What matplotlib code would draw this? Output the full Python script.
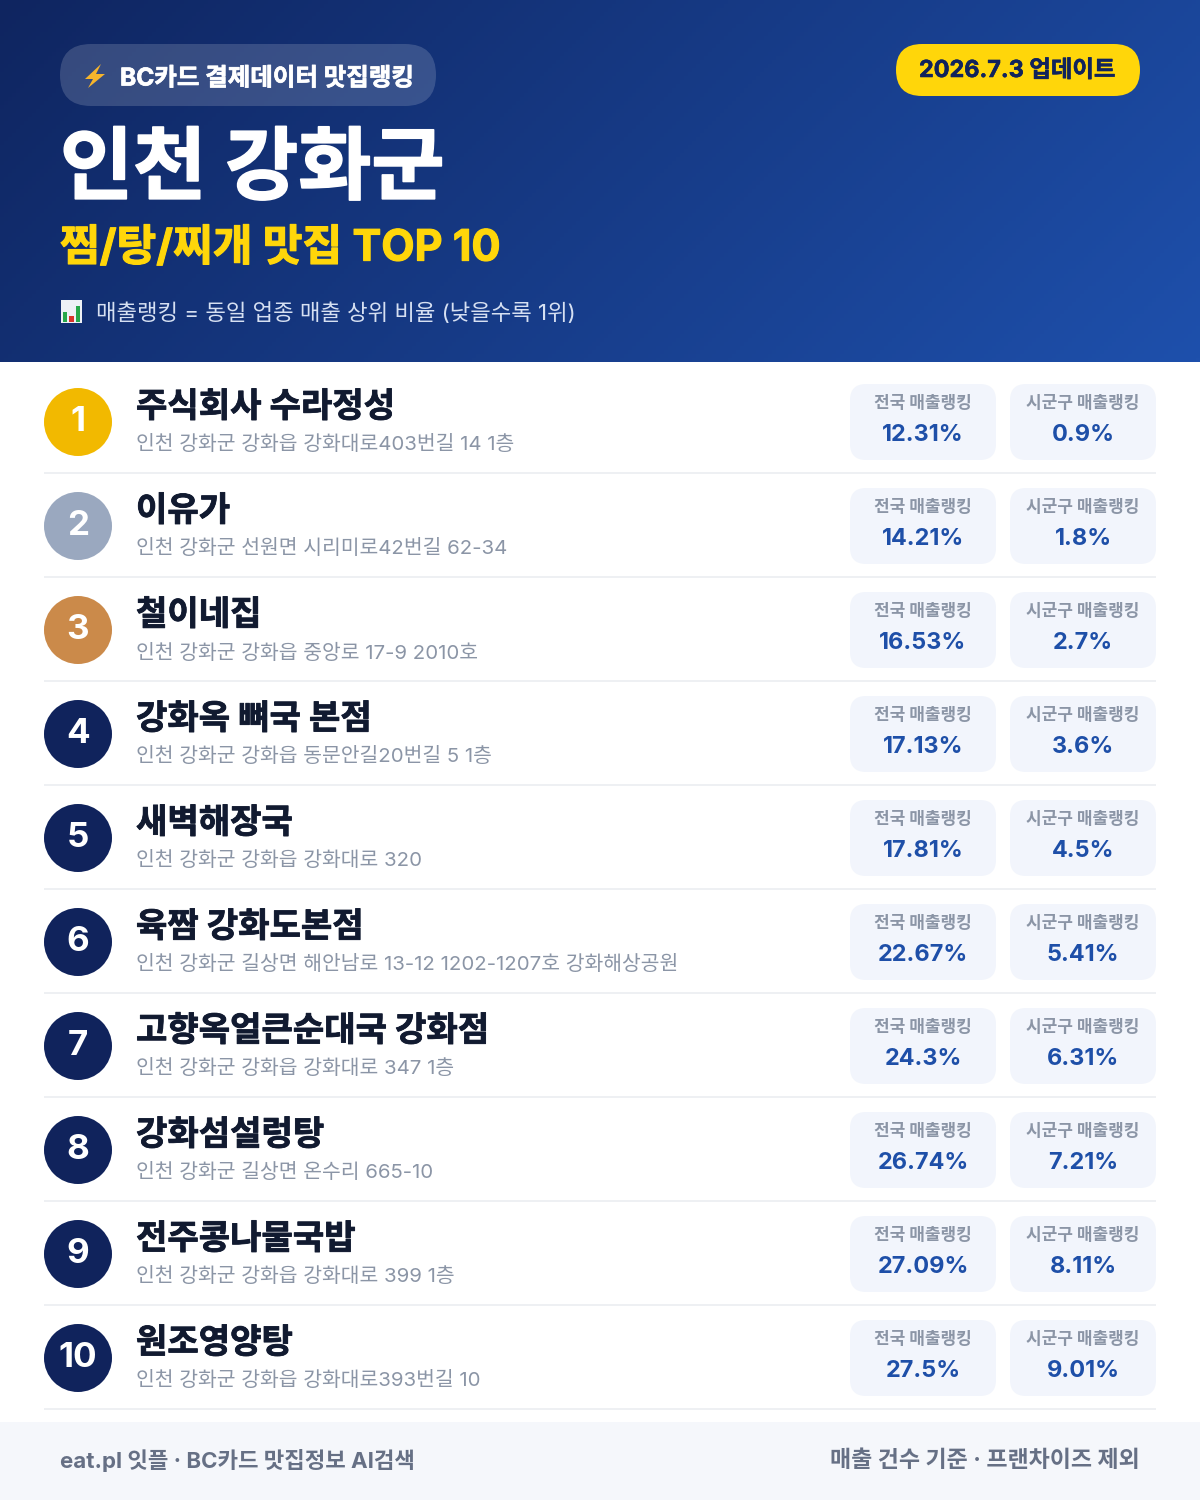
import numpy as np
import matplotlib
matplotlib.use("Agg")
import matplotlib.pyplot as plt
import matplotlib.patheffects as pe
from matplotlib.patches import FancyBboxPatch, Circle, Polygon, Rectangle

# Inter for the latin and digits, Noto for the hangul
plt.rcParams['font.family'] = ['Inter', 'Noto Sans CJK KR', 'DejaVu Sans']

# data
names = ["주식회사 수라정성", "이유가", "철이네집", "강화옥 뼈국 본점", "새벽해장국",
         "육짬 강화도본점", "고향옥얼큰순대국 강화점", "강화섬설렁탕", "전주콩나물국밥", "원조영양탕"]
addrs = ["인천 강화군 강화읍 강화대로403번길 14 1층",
         "인천 강화군 선원면 시리미로42번길 62-34",
         "인천 강화군 강화읍 중앙로 17-9 2010호",
         "인천 강화군 강화읍 동문안길20번길 5 1층",
         "인천 강화군 강화읍 강화대로 320",
         "인천 강화군 길상면 해안남로 13-12 1202-1207호 강화해상공원",
         "인천 강화군 강화읍 강화대로 347 1층",
         "인천 강화군 길상면 온수리 665-10",
         "인천 강화군 강화읍 강화대로 399 1층",
         "인천 강화군 강화읍 강화대로393번길 10"]
national = ["12.31%", "14.21%", "16.53%", "17.13%", "17.81%", "22.67%", "24.3%", "26.74%", "27.09%", "27.5%"]
local = ["0.9%", "1.8%", "2.7%", "3.6%", "4.5%", "5.41%", "6.31%", "7.21%", "8.11%", "9.01%"]
badge_cols = ["#f2b900", "#9aa8bf", "#cb8a4a"] + ["#10235c"] * 7

PX = 0.72  # px to pt at dpi 100

fig = plt.figure(figsize=(12, 15), dpi=100)
ax = fig.add_axes([0, 0, 1, 1])


def txt(x, y, s, size, color, weight="regular", ha="left", stroke=0):
    t = ax.text(x, y, s, fontsize=size * PX, color=color, fontweight=weight, ha=ha, va="center")
    if stroke:
        # fake the heavier weight, no black cut of the font here
        t.set_path_effects([pe.withStroke(linewidth=stroke, foreground=color)])
    return t


def rbox(x0, y0, x1, y1, r, color, alpha=1.0):
    ax.add_patch(FancyBboxPatch((x0, y0), x1 - x0, y1 - y0, boxstyle=f"round,pad=0,rounding_size={r}",
                                fc=color, ec="none", alpha=alpha))


# header gradient
gx, gy = np.meshgrid(np.linspace(0, 1, 300), np.linspace(0, 1, 90))
g = (gx * 1200 + gy * 362) / (1200 + 362)
c0 = np.array([0x0f, 0x25, 0x60]) / 255
c1 = np.array([0x1e, 0x50, 0xac]) / 255
ax.imshow(c0 + (c1 - c0) * g[..., None], extent=[0, 1200, 362, 0], aspect="auto", zorder=0)

# top pill
rbox(60, 44, 436, 106, 31, "#ffffff", alpha=0.16)
ax.add_patch(Polygon([(101, 64), (85, 79), (93, 79), (88, 88), (105, 74), (96, 74)], fc="#f7b52c", ec="none"))
txt(120, 79, "BC카드 결제데이터 맛집랭킹", 24.5, "#ffffff", "bold", stroke=0.5)

# date pill
rbox(896, 44, 1140, 96, 26, "#ffd60a")
txt(1017, 71, "2026.7.3 업데이트", 23.4, "#10235c", "bold", ha="center", stroke=0.4)

txt(60, 172, "인천 강화군", 79.5, "#ffffff", "bold", stroke=1.2)
txt(60, 249, "찜/탕/찌개 맛집 TOP 10", 43.2, "#ffd60a", "bold", stroke=0.8)

# chart icon
ax.add_patch(Rectangle((61, 300), 21, 23, fc="#eef1f6", ec="none"))
ax.add_patch(Rectangle((63, 312), 4, 10, fc="#27a84a", ec="none"))
ax.add_patch(Rectangle((69, 316), 5, 6, fc="#d9342b", ec="none"))
ax.add_patch(Rectangle((76, 306), 4, 16, fc="#27a84a", ec="none"))
txt(96, 313, "매출랭킹 = 동일 업종 매출 상위 비율 (낮을수록 1위)", 22.3, "#d6e0f2")

# rows
for i in range(len(names)):
    dy = 104 * i
    ax.add_patch(Circle((78, 422 + dy), 34, fc=badge_cols[i], ec="none"))
    txt(78, 422 + dy, str(i + 1), 35, "#ffffff", "bold", ha="center")
    txt(136, 408 + dy, names[i], 34.1, "#111a30", "bold", stroke=0.6)
    txt(136, 445 + dy, addrs[i], 20.4, "#8b95a6")
    for x0, label, val in [(850, "전국 매출랭킹", national[i]), (1010, "시군구 매출랭킹", local[i])]:
        rbox(x0, 384 + dy, x0 + 146, 460 + dy, 16, "#f2f5fc")
        txt(x0 + 73, 404 + dy, label, 17, "#8b95a6", "bold", ha="center")
        txt(x0 + 73, 435 + dy, val, 23.5, "#1e4fa8", "bold", ha="center")
    ax.add_patch(Rectangle((44, 472 + dy), 1112, 2, fc="#eef0f3", ec="none"))

# footer
ax.add_patch(Rectangle((0, 1422), 1200, 78, fc="#f5f7fb", ec="none"))
txt(60, 1461, "eat.pl 잇플 · BC카드 맛집정보 AI검색", 22.3, "#667085", "bold")
txt(1140, 1461, "매출 건수 기준 · 프랜차이즈 제외", 23, "#667085", "bold", ha="right")

ax.set_xlim(0, 1200)
ax.set_ylim(1500, 0)
ax.axis("off")
fig.savefig("out.png", dpi=100, facecolor="white")
